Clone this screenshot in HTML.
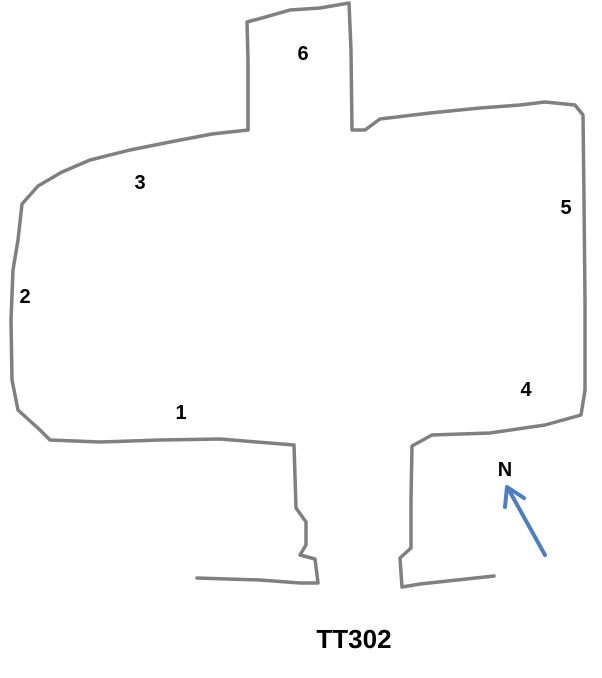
<!DOCTYPE html>
<html><head><meta charset="utf-8"><style>
html,body{margin:0;padding:0;background:#fff;}
svg{display:block;}
text{font-family:"Liberation Sans",sans-serif;font-weight:bold;fill:#000;}
</style></head><body>
<svg width="602" height="678" viewBox="0 0 602 678" xmlns="http://www.w3.org/2000/svg">
<g fill="none" stroke="#808080" stroke-width="3.5" stroke-linejoin="round" stroke-linecap="round">
<path d="M248,130 L248,60 L247,22 L262,18 L290,10 L320,8 L349,3 L351,50 L352,130 L365,130 L380,119 L430,113 L480,108 L520,105 L545,102 L575,105 L583,115 L584,200 L585,300 L585,390 L581,415 L545,425 L490,433 L432,435 L412,446 L411,500 L411,548 L400,558 L402,587 L420,584 L494,576"/>
<path d="M248,130 L212,134 L170,142 L130,150 L90,160 L62,172 L38,186 L22,204 L18,240 L13,270 L11,320 L12,380 L18,410 L40,430 L50,440 L100,442 L160,440 L220,439 L294,445 L296,508 L306,522 L306,545 L300,555 L315,559 L318,583 L300,583 L260,580 L197,578"/>
</g>
<line x1="545" y1="555" x2="510" y2="492" stroke="#4f7fbf" stroke-width="4" stroke-linecap="round"/>
<polyline points="505,507 507,487 524,498" fill="none" stroke="#4f7fbf" stroke-width="4" stroke-linecap="round" stroke-linejoin="round"/>
<text x="303" y="60" font-size="20" text-anchor="middle">6</text>
<text x="140" y="189" font-size="20" text-anchor="middle">3</text>
<text x="566" y="214" font-size="20" text-anchor="middle">5</text>
<text x="25" y="303" font-size="20" text-anchor="middle">2</text>
<text x="526" y="396" font-size="20" text-anchor="middle">4</text>
<text x="181" y="419" font-size="20" text-anchor="middle">1</text>
<text x="505" y="476" font-size="20" text-anchor="middle">N</text>
<text x="354" y="648" font-size="26" text-anchor="middle">TT302</text>
</svg>
</body></html>
